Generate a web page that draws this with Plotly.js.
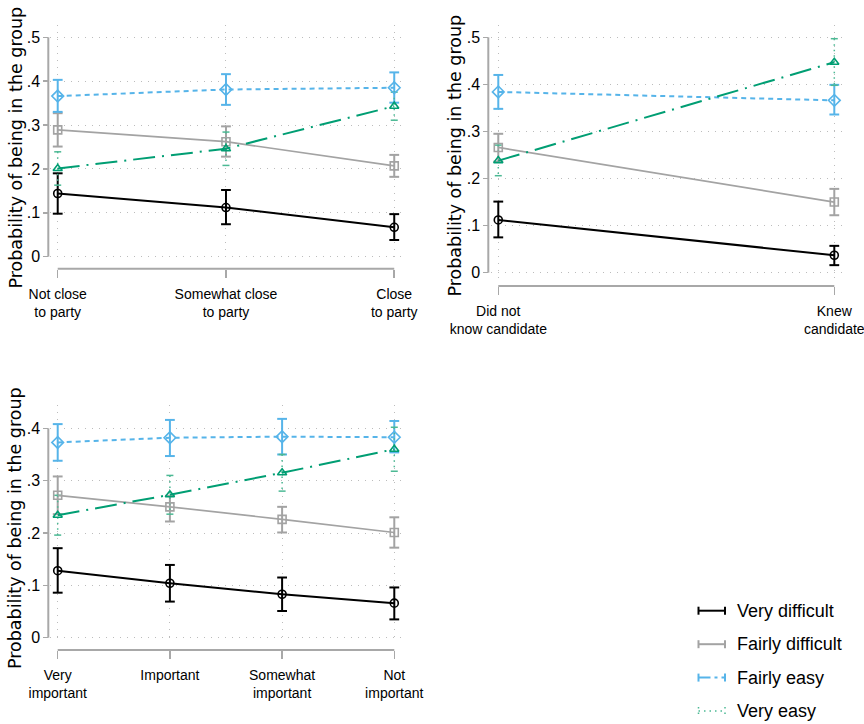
<!DOCTYPE html>
<html>
<head>
<meta charset="utf-8">
<script src="https://cdn.plot.ly/plotly-3.0.1.min.js"></script>
<style>html,body{margin:0;padding:0;background:#fff;}#chart{width:864px;height:724px;}</style>
</head>
<body>
<div id="chart"></div>
<script>
// ---------- DATA ----------
const seriesNames = ["Very difficult", "Fairly difficult", "Fairly easy", "Very easy"];
const yTitle = "Probability of being in the group";

// Panel 1: closeness to party
const cats1 = ["Not close<br>to party", "Somewhat close<br>to party", "Close<br>to party"];
const p1VeryDiff   = [0.144, 0.112, 0.067];
const p1VeryDiffLo = [0.098, 0.074, 0.038];
const p1VeryDiffHi = [0.190, 0.152, 0.097];
const p1FairDiff   = [0.289, 0.262, 0.207];
const p1FairDiffLo = [0.251, 0.228, 0.182];
const p1FairDiffHi = [0.327, 0.297, 0.232];
const p1FairEasy   = [0.366, 0.381, 0.385];
const p1FairEasyLo = [0.330, 0.346, 0.351];
const p1FairEasyHi = [0.403, 0.416, 0.420];
const p1VeryEasy   = [0.201, 0.246, 0.343];
const p1VeryEasyLo = [0.163, 0.208, 0.311];
const p1VeryEasyHi = [0.239, 0.284, 0.375];
const yTicks1 = [0, 0.1, 0.2, 0.3, 0.4, 0.5];
const yTickText1 = ["0", ".1", ".2", ".3", ".4", ".5"];

// Panel 2: knew candidate
const cats2 = ["Did not<br>know candidate", "Knew<br>candidate"];
const p2VeryDiff   = [0.112, 0.037];
const p2VeryDiffLo = [0.075, 0.016];
const p2VeryDiffHi = [0.151, 0.057];
const p2FairDiff   = [0.266, 0.150];
const p2FairDiffLo = [0.236, 0.122];
const p2FairDiffHi = [0.295, 0.178];
const p2FairEasy   = [0.384, 0.366];
const p2FairEasyLo = [0.348, 0.336];
const p2FairEasyHi = [0.420, 0.399];
const p2VeryEasy   = [0.238, 0.447];
const p2VeryEasyLo = [0.206, 0.398];
const p2VeryEasyHi = [0.271, 0.497];
const yTicks2 = [0, 0.1, 0.2, 0.3, 0.4, 0.5];
const yTickText2 = ["0", ".1", ".2", ".3", ".4", ".5"];

// Panel 3: importance
const cats3 = ["Very<br>important", "Important", "Somewhat<br>important", "Not<br>important"];
const p3VeryDiff   = [0.128, 0.104, 0.083, 0.066];
const p3VeryDiffLo = [0.086, 0.069, 0.051, 0.035];
const p3VeryDiffHi = [0.171, 0.139, 0.115, 0.096];
const p3FairDiff   = [0.272, 0.250, 0.226, 0.201];
const p3FairDiffLo = [0.236, 0.222, 0.201, 0.172];
const p3FairDiffHi = [0.308, 0.271, 0.250, 0.230];
const p3FairEasy   = [0.373, 0.382, 0.384, 0.383];
const p3FairEasyLo = [0.338, 0.347, 0.350, 0.354];
const p3FairEasyHi = [0.408, 0.416, 0.418, 0.414];
const p3VeryEasy   = [0.234, 0.273, 0.315, 0.360];
const p3VeryEasyLo = [0.196, 0.236, 0.280, 0.318];
const p3VeryEasyHi = [0.272, 0.310, 0.350, 0.402];
const yTicks3 = [0, 0.1, 0.2, 0.3, 0.4];
const yTickText3 = ["0", ".1", ".2", ".3", ".4"];

// ---------- STYLE ----------
const SANS = "'Liberation Sans', Arial, sans-serif";
const AXIS_GRAY = "#a8a8a8";
const GRID_GRAY = "#bcbcbc";
const styles = [
  {color:"#000000", width:2,   dash:"solid",            symbol:"circle-open",      size:8, ciColor:"#000000", ciWidth:2,   ciDash:"solid",     capSize:7},
  {color:"#a3a3a3", width:1.7, dash:"solid",            symbol:"square-open",      size:8, ciColor:"#a3a3a3", ciWidth:2,   ciDash:"solid",     capSize:7},
  {color:"#56b4e9", width:2,   dash:"5px,4px",          symbol:"diamond-open",     size:9, ciColor:"#56b4e9", ciWidth:2,   ciDash:"solid",     capSize:7},
  {color:"#009e73", width:2,   dash:"22px,7px,2px,7px", symbol:"triangle-up-open", size:8, ciColor:"#4cb994", ciWidth:1.5, ciDash:"1.5px,4px", capSize:5}
];

const panels = [
  {cats:cats1, series:[[p1VeryDiff,p1VeryDiffLo,p1VeryDiffHi],[p1FairDiff,p1FairDiffLo,p1FairDiffHi],[p1FairEasy,p1FairEasyLo,p1FairEasyHi],[p1VeryEasy,p1VeryEasyLo,p1VeryEasyHi]],
   yticks:yTicks1, yticktext:yTickText1, xa:"x", ya:"y", xname:"xaxis", yname:"yaxis",
   xdom:[50,404], ydom:[25,262], xrange:[-0.0458,2.058], yrange:[-0.0121,0.528], ypos:48.3, xpos:268.7, titleX:15, titleY:147.5},
  {cats:cats2, series:[[p2VeryDiff,p2VeryDiffLo,p2VeryDiffHi],[p2FairDiff,p2FairDiffLo,p2FairDiffHi],[p2FairEasy,p2FairEasyLo,p2FairEasyHi],[p2VeryEasy,p2VeryEasyLo,p2VeryEasyHi]],
   yticks:yTicks2, yticktext:yTickText2, xa:"x2", ya:"y2", xname:"xaxis2", yname:"yaxis2",
   xdom:[491,843], ydom:[25,278], xrange:[-0.0217,1.0259], yrange:[-0.0113,0.5261], ypos:488.3, xpos:286, titleX:455, titleY:155.5},
  {cats:cats3, series:[[p3VeryDiff,p3VeryDiffLo,p3VeryDiffHi],[p3FairDiff,p3FairDiffLo,p3FairDiffHi],[p3FairEasy,p3FairEasyLo,p3FairEasyHi],[p3VeryEasy,p3VeryEasyLo,p3VeryEasyHi]],
   yticks:yTicks3, yticktext:yTickText3, xa:"x3", ya:"y3", xname:"xaxis3", yname:"yaxis3",
   xdom:[50,404], ydom:[405,643], xrange:[-0.0686,3.0865], yrange:[-0.0101,0.4445], ypos:48.3, xpos:650, titleX:15, titleY:528}
];

const W = 864, H = 724;
const px = v => v / W;
const py = v => 1 - v / H;

const traces = [];
const shapes = [];
const annotations = [];
const layout = {
  width: W, height: H,
  margin: {l:0, r:0, t:0, b:0},
  paper_bgcolor: "#ffffff", plot_bgcolor: "#ffffff",
  showlegend: false,
  font: {family: SANS, color: "#000000", size: 14}
};

panels.forEach(p => {
  const xs = p.cats.map((c, i) => i);
  // CI traces
  p.series.forEach((s, k) => {
    const st = styles[k];
    const [val, lo, hi] = s;
    const cx = [], cy = [];
    xs.forEach((xi, i) => { cx.push(xi, xi, null); cy.push(hi[i], lo[i], null); });
    traces.push({type:"scatter", mode:"lines", x:cx, y:cy, xaxis:p.xa, yaxis:p.ya,
      line:{color:st.ciColor, width:st.ciWidth, dash:st.ciDash}, hoverinfo:"skip", cliponaxis:false});
    traces.push({type:"scatter", mode:"markers", x:xs.concat(xs), y:lo.concat(hi), xaxis:p.xa, yaxis:p.ya,
      marker:{symbol:"line-ew", size:st.capSize, color:st.ciColor, line:{color:st.ciColor, width:st.ciWidth}},
      hoverinfo:"skip", cliponaxis:false});
  });
  // point estimate lines
  p.series.forEach((s, k) => {
    const st = styles[k];
    traces.push({type:"scatter", mode:"lines+markers", name:seriesNames[k], x:xs, y:s[0], xaxis:p.xa, yaxis:p.ya,
      line:{color:st.color, width:st.width, dash:st.dash},
      marker:{symbol:st.symbol, size:st.size, color:st.color, line:{color:st.color, width:1.6}},
      cliponaxis:false});
  });

  layout[p.xname] = {
    domain:[px(p.xdom[0]), px(p.xdom[1])], range:p.xrange, anchor:"free", position:py(p.xpos),
    tickmode:"array", tickvals:xs, ticktext:p.cats,
    showline:false, zeroline:false, ticks:"outside", ticklen:8, tickwidth:1.5, tickcolor:AXIS_GRAY,
    showgrid:true, gridcolor:GRID_GRAY, gridwidth:1, griddash:"1px,6px",
    tickfont:{family:SANS, size:14, color:"#000"}, ticklabelstandoff:4, ticklabeloverflow:"allow", fixedrange:true
  };
  layout[p.yname] = {
    domain:[py(p.ydom[1]), py(p.ydom[0])], range:p.yrange, anchor:"free", position:px(p.ypos),
    tickmode:"array", tickvals:p.yticks, ticktext:p.yticktext,
    showline:false, zeroline:false, ticks:"outside", ticklen:5, tickwidth:1.5, tickcolor:AXIS_GRAY,
    showgrid:true, gridcolor:GRID_GRAY, gridwidth:1, griddash:"1px,6px",
    tickfont:{family:SANS, size:16, color:"#000"}, fixedrange:true
  };
  // axis lines (Stata style: span of ticks only)
  shapes.push({type:"line", xref:p.xa, yref:"paper", x0:xs[0], x1:xs[xs.length-1], y0:py(p.xpos), y1:py(p.xpos),
    line:{color:AXIS_GRAY, width:2}, layer:"above"});
  shapes.push({type:"line", xref:"paper", yref:p.ya, x0:px(p.ypos), x1:px(p.ypos), y0:p.yticks[0], y1:p.yticks[p.yticks.length-1],
    line:{color:AXIS_GRAY, width:2}, layer:"above"});
  // y title
  annotations.push({text:yTitle, xref:"paper", yref:"paper", x:px(p.titleX), y:py(p.titleY), textangle:-90,
    xanchor:"center", yanchor:"middle", showarrow:false,
    font:{family:"'DejaVu Sans', sans-serif", size:17.5, color:"#000"}});
});

// ---------- legend (manual, rcap-style keys) ----------
const legendRows = [610.7, 644.2, 677.6, 711];
const keyX0 = 698.5, keyX1 = 725, capH = 4, textX = 735;
seriesNames.forEach((name, k) => {
  const st = styles[k];
  const yy = legendRows[k];
  const dash = k === 2 ? "12px,4px,3px,4px" : st.ciDash;
  const lw = k === 3 ? 1.5 : 2;
  shapes.push({type:"line", xref:"paper", yref:"paper", x0:px(keyX0), x1:px(keyX1), y0:py(yy), y1:py(yy),
    line:{color:st.ciColor, width:lw, dash:dash}});
  [keyX0, keyX1].forEach(cx => {
    shapes.push({type:"line", xref:"paper", yref:"paper", x0:px(cx), x1:px(cx), y0:py(yy - capH), y1:py(yy + capH),
      line:{color:st.ciColor, width:lw, dash: k === 3 ? st.ciDash : "solid"}});
  });
  annotations.push({text:name, xref:"paper", yref:"paper", x:px(textX), y:py(yy), xanchor:"left", yanchor:"middle",
    showarrow:false, font:{family:SANS, size:18, color:"#000"}});
});

layout.shapes = shapes;
layout.annotations = annotations;

Plotly.newPlot("chart", traces, layout, {staticPlot:true, displayModeBar:false});
</script>
</body>
</html>
